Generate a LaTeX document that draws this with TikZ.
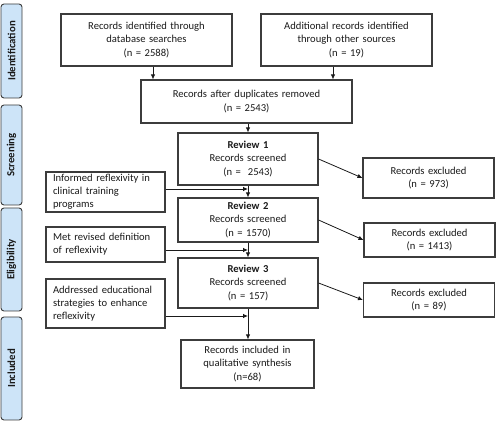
\documentclass[tikz,border=0pt]{standalone}
\usepackage{fontspec}
\setmainfont{Carlito}
\usetikzlibrary{arrows.meta}
\definecolor{ink}{HTML}{1A1A1A}
\definecolor{edge}{HTML}{3C3C3C}
\definecolor{phasefill}{HTML}{CDE4F8}
\tikzset{
  box/.style={draw=edge,line width=1.1pt,fill=white,inner sep=0pt,align=center,font=\fontsize{10.6}{13.2}\selectfont,text=ink},
  sidebox/.style={box,align=left},
  phase/.style={draw=edge,line width=.9pt,rounded corners=3pt,fill=phasefill,inner sep=0pt,minimum width=21pt},
  phasetext/.style={rotate=90,font=\fontsize{10.8}{12}\selectfont\bfseries,text=ink},
  ar/.style={-{Latex[length=5pt,width=4.5pt]},draw=ink,line width=.8pt},
}
\begin{document}
\begin{tikzpicture}[x=1pt,y=-1pt]
\useasboundingbox (0,0) rectangle (496,422);
% phases
\node[phase,minimum height=94pt] (pid) at (11.5,51) {};
\node[phasetext] at (pid.center) {Identification};
\node[phase,minimum height=100pt] (psc) at (11.5,155) {};
\node[phasetext] at (psc.center) {Screening};
\node[phase,minimum height=103pt] (pel) at (11.5,259.5) {};
\node[phasetext] at (pel.center) {Eligibility};
\node[phase,minimum height=103pt] (pin) at (11.5,368.5) {};
\node[phasetext] at (pin.center) {Included};
% main flow
\node[box,minimum width=171pt,minimum height=52pt,text width=160pt] (db) at (146.5,40) {Records identified through\\database searches\\(n = 2588)};
\node[box,minimum width=171pt,minimum height=52pt,text width=160pt] (other) at (346.5,40) {Additional records identified\\through other sources\\(n = 19)};
\node[box,minimum width=211pt,minimum height=43pt,text width=200pt] (dup) at (246.5,101.5) {Records after duplicates removed\\(n = 2543)};
\node[box,minimum width=140pt,minimum height=52pt,text width=130pt] (rev1) at (248,159) {\textbf{Review 1}\\Records screened\\(n = \ 2543)};
\node[box,minimum width=140pt,minimum height=44pt,text width=130pt] (rev2) at (248,220) {\textbf{Review 2}\\Records screened\\(n = 1570)};
\node[box,minimum width=140pt,minimum height=50pt,text width=130pt] (rev3) at (248,283) {\textbf{Review 3}\\Records screened\\(n = 157)};
\node[box,minimum width=133pt,minimum height=48pt,text width=123pt] (incl) at (247.5,364) {Records included in\\qualitative synthesis\\(n=68)};
% exclusions
\node[box,minimum width=131pt,minimum height=40pt,text width=120pt] (ex1) at (428.5,178) {Records excluded\\(n = 973)};
\node[box,minimum width=131pt,minimum height=34pt,text width=120pt] (ex2) at (429.5,240) {Records excluded\\(n = 1413)};
\node[box,minimum width=131pt,minimum height=34pt,text width=120pt] (ex3) at (429,300) {Records excluded\\(n = 89)};
% criteria
\node[sidebox,minimum width=119pt,minimum height=40pt,text width=105pt] (crit1) at (105.5,192) {Informed reflexivity in\\clinical training\\programs};
\node[sidebox,minimum width=119pt,minimum height=35pt,text width=105pt] (crit2) at (105.5,244.5) {Met revised definition\\of reflexivity};
\node[sidebox,minimum width=119pt,minimum height=49pt,text width=105pt] (crit3) at (105.5,303.5) {Addressed educational\\strategies to enhance\\reflexivity};
% arrows
\draw[ar] ([xshift=6.5pt]db.south) -- ([xshift=6.5pt]db.south |- dup.north);
\draw[ar] ([xshift=-13.5pt]other.south) -- ([xshift=-13.5pt]other.south |- dup.north);
\draw[ar] (dup.south -| rev1.north) -- (rev1.north);
\draw[ar] (rev1.south) -- (rev2.north);
\draw[ar] (rev2.south) -- (rev3.north);
\draw[ar] (rev3.south) -- (incl.north -| rev3.south);
\draw[ar] (crit1.east |- 0,189) -- (rev1.south |- 0,189);
\draw[ar] (crit2.east |- 0,250) -- (rev2.south |- 0,250);
\draw[ar] (crit3.east |- 0,316) -- (rev3.south |- 0,316);
\draw[ar] (rev1.east) -- (ex1.west);
\draw[ar] (rev2.east) -- (ex2.west);
\draw[ar] (rev3.east) -- (ex3.west);
\end{tikzpicture}
\end{document}
